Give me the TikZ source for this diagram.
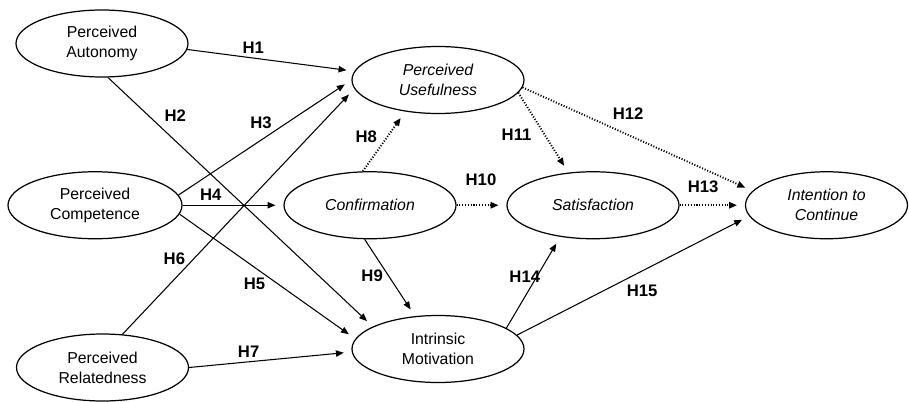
\documentclass[tikz,border=0pt]{standalone}
\usepackage{fontspec}
\setmainfont{Liberation Sans}
\usepackage{tikz}
\usetikzlibrary{arrows.meta, positioning, shapes.geometric}

\begin{document}
\begin{tikzpicture}[
  latent/.style={draw, ellipse, line width=0.7pt, inner sep=0pt, align=center,
                 minimum width=3.44cm, minimum height=1.34cm,
                 font=\fontsize{9}{11.3}\selectfont},
  arr/.style={-{Triangle[length=4.5pt, width=3.6pt]}, line width=0.6pt, shorten >=4.5pt},
  dotarr/.style={arr, densely dotted, line width=1.1pt},
  hyp/.style={font=\fontsize{9.5}{11}\selectfont\bfseries, inner sep=0pt},
]
\useasboundingbox (0,0) rectangle (18.18,-8.02);
\node[latent] (cf) at (7.40,-4.105) {\itshape Confirmation};
\node[latent, on grid, left=5.50cm of cf, minimum width=3.48cm] (pc) {Perceived\\Competence};
\node[latent, on grid, right=4.46cm of cf] (sa) {\itshape Satisfaction};
\node[latent, on grid, right=4.67cm of sa, minimum width=3.24cm] (ic) {\itshape Intention to\\\itshape Continue};
\node[latent, on grid, above right=2.505cm and 1.36cm of cf] (pu) {\itshape Perceived\\\itshape Usefulness};
\node[latent, on grid, below right=2.875cm and 1.36cm of cf] (im) {Intrinsic\\Motivation};
\node[latent, on grid, above right=3.235cm and 0.14cm of pc] (pa) {Perceived\\Autonomy};
\node[latent, on grid, below right=3.245cm and 0.15cm of pc] (pr) {Perceived\\Relatedness};

\draw[arr] (pa.-4) -- node[hyp, pos=.395, yshift=.21cm]{H1} (pu.174);
\draw[arr] (pa.-80) -- node[hyp, pos=.152, xshift=.54cm]{H2} (im.161);
\draw[arr] (pc.7) -- node[hyp, pos=.477, yshift=.35cm]{H3} (pu.180);
\draw[arr] (pc) -- node[hyp, pos=.28, yshift=.2cm]{H4} (cf);
\draw[arr] (pc.-6) -- node[hyp, pos=.426, yshift=-.34cm]{H5} (im.173);
\draw[arr] (pr.59) -- node[hyp, pos=.306, xshift=-.38cm]{H6} (pu.186);
\draw[arr] (pr.0) -- node[hyp, pos=.366, yshift=.21cm]{H7} (im.182);
\draw[dotarr] (cf.102) -- node[hyp, pos=.576, xshift=-.42cm]{H8} (pu.-136);
\draw[arr] (cf.-99) -- node[hyp, pos=.477, xshift=-.33cm]{H9} (im.125);
\draw[dotarr] (cf) -- node[hyp, pos=.49, yshift=.5cm]{H10} (sa);
\draw[dotarr] (pu.-9) -- node[hyp, pos=.524, xshift=-.56cm]{H11} (sa.127);
\draw[dotarr] (pu.-5) -- node[hyp, pos=.459, yshift=.43cm]{H12} (ic.169);
\draw[dotarr] (sa) -- node[hyp, pos=.36, yshift=.36cm]{H13} (ic);
\draw[arr] (im.17) -- node[hyp, pos=.564, xshift=-.24cm]{H14} (sa.-136);
\draw[arr] (im.10) -- node[hyp, pos=.539, yshift=-.4cm]{H15} (ic.188);
\end{tikzpicture}
\end{document}
